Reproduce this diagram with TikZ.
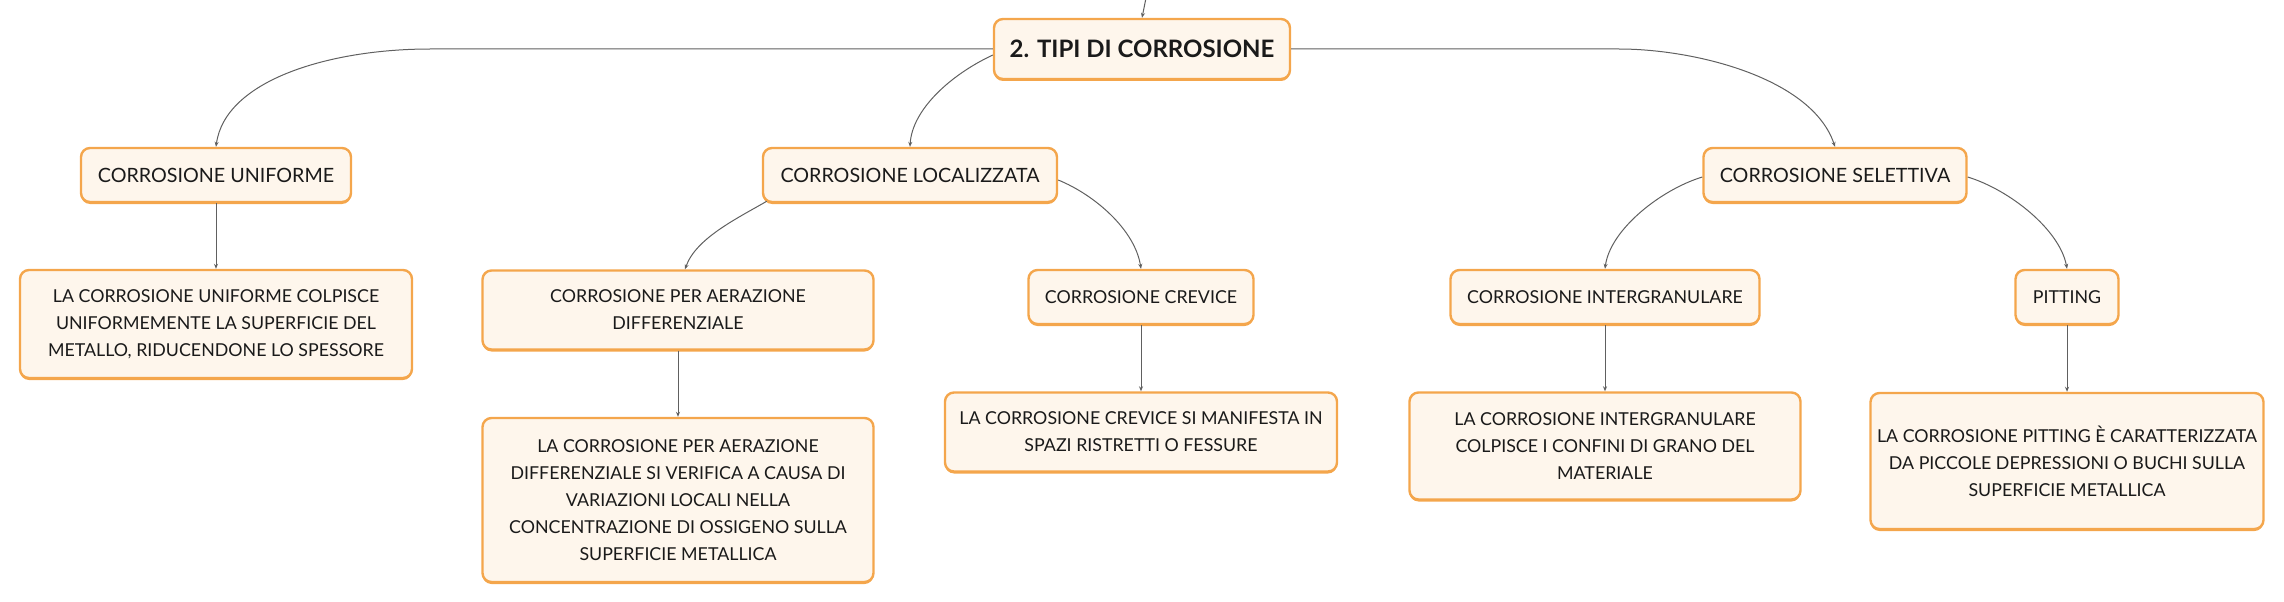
\documentclass[tikz,border=0pt]{standalone}
\usepackage{fontspec}
\setmainfont{Lato}
\usetikzlibrary{shadows,arrows.meta}
\definecolor{boxfill}{HTML}{FEF6EC}
\definecolor{boxline}{HTML}{F4A64C}
\definecolor{linec}{HTML}{606060}
\definecolor{txt}{HTML}{1A1A1A}
\tikzset{
 box/.style={draw=boxline, line width=2.4pt, fill=boxfill, rounded corners=9pt, inner sep=0pt, align=center, text=txt,
   drop shadow={shadow xshift=0pt, shadow yshift=-2pt, fill=boxline, opacity=1}},
 lvlone/.style={box, font=\fontsize{24}{27}\selectfont\bfseries},
 lvltwo/.style={box, font=\fontsize{19.7}{27}\selectfont},
 lvlthree/.style={box, font=\fontsize{17.8}{27}\selectfont},
 conn/.style={draw=linec, line width=1pt, -{Stealth[length=5pt,width=4pt]}},
}
\begin{document}
\begin{tikzpicture}[x=1pt,y=-1pt]
\useasboundingbox (0,0) rectangle (2284,602);
% nodes
\node[lvlone, minimum width=296pt, minimum height=60pt] (top) at (1142,49) {2. TIPI DI CORROSIONE};
\node[lvltwo, minimum width=270pt, minimum height=54pt] (unif) at (216,175) {CORROSIONE UNIFORME};
\node[lvltwo, minimum width=294pt, minimum height=54pt] (loc) at (910,175) {CORROSIONE LOCALIZZATA};
\node[lvltwo, minimum width=263pt, minimum height=54pt] (sel) at (1835,175) {CORROSIONE SELETTIVA};
\node[lvlthree, minimum width=392pt, minimum height=108pt] (unifd) at (216,324) {LA CORROSIONE UNIFORME COLPISCE\\UNIFORMEMENTE LA SUPERFICIE DEL\\METALLO, RIDUCENDONE LO SPESSORE};
\node[lvlthree, minimum width=391pt, minimum height=79pt] (aer) at (678,310) {CORROSIONE PER AERAZIONE\\DIFFERENZIALE};
\node[lvlthree, minimum width=391pt, minimum height=164pt] (aerd) at (678,500) {LA CORROSIONE PER AERAZIONE\\DIFFERENZIALE SI VERIFICA A CAUSA DI\\VARIAZIONI LOCALI NELLA\\CONCENTRAZIONE DI OSSIGENO SULLA\\SUPERFICIE METALLICA};
\node[lvlthree, minimum width=225pt, minimum height=54pt] (crev) at (1141,297) {CORROSIONE CREVICE};
\node[lvlthree, minimum width=392pt, minimum height=79pt] (crevd) at (1141,432) {LA CORROSIONE CREVICE SI MANIFESTA IN\\SPAZI RISTRETTI O FESSURE};
\node[lvlthree, minimum width=309pt, minimum height=54pt] (int) at (1605,297) {CORROSIONE INTERGRANULARE};
\node[lvlthree, minimum width=391pt, minimum height=107pt] (intd) at (1605,446) {LA CORROSIONE INTERGRANULARE\\COLPISCE I CONFINI DI GRANO DEL\\MATERIALE};
\node[lvlthree, minimum width=103pt, minimum height=54pt] (pit) at (2067,297) {PITTING};
\node[lvlthree, minimum width=393pt, minimum height=136pt] (pitd) at (2067,461) {LA CORROSIONE PITTING È CARATTERIZZATA\\DA PICCOLE DEPRESSIONI O BUCHI SULLA\\SUPERFICIE METALLICA};
\coordinate (above) at (1146,-2);
% connectors
\draw[conn] (above) -- (top.north);
\draw[conn] (top.west) -- (430,49) .. controls (330,49) and (225,80) .. (unif.north);
\draw[conn] ([yshift=-6pt]top.west) .. controls (950,75) and (912,110) .. (loc.north);
\draw[conn] (top.east) -- (1619,49) .. controls (1695,49) and (1812,78) .. (sel.north);
\draw[conn] (unif.south) -- (unifd.north);
\draw[conn] ([xshift=5pt,yshift=2pt]loc.south west) .. controls (738,218) and (696,238) .. ([xshift=7pt]aer.north);
\draw[conn] ([yshift=-5pt]loc.east) .. controls (1095,195) and (1135,230) .. (crev.north);
\draw[conn] (aer.south) -- (aerd.north);
\draw[conn] (crev.south) -- (crevd.north);
\draw[conn] ([yshift=-2pt]sel.west) .. controls (1660,190) and (1610,230) .. (int.north);
\draw[conn] ([yshift=-2pt]sel.east) .. controls (2010,190) and (2060,230) .. (pit.north);
\draw[conn] (int.south) -- (intd.north);
\draw[conn] (pit.south) -- (pitd.north);
\end{tikzpicture}
\end{document}
